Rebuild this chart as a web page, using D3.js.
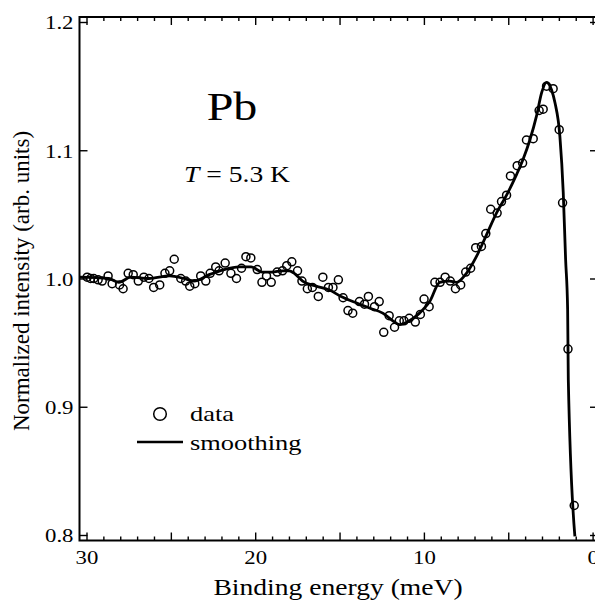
<!DOCTYPE html>
<html>
<head>
<meta charset="utf-8">
<script src="https://cdn.jsdelivr.net/npm/d3@7"></script>
<style>
  body { margin: 0; background: #fff; }
  text { font-family: "Liberation Serif", "Times New Roman", serif; fill: #000; }
</style>
</head>
<body>
<div id="chart"></div>
<script>
// binding energy (meV) and normalized intensity of the measured points
const dataE = [29.96, 29.76, 29.57, 29.31, 29.07, 28.72, 28.48, 28.04, 27.83, 27.53,
    27.23, 26.93, 26.60, 26.30, 26.02, 25.66, 25.35, 25.07, 24.80, 24.41,
    24.12, 23.88, 23.58, 23.23, 22.93, 22.67, 22.34, 22.14, 21.78, 21.44,
    21.11, 20.81, 20.55, 20.26, 19.88, 19.60, 19.33, 19.05, 18.70, 18.38,
    18.13, 17.83, 17.49, 17.23, 16.91, 16.61, 16.26, 15.99, 15.66, 15.39,
    15.07, 14.79, 14.50, 14.22, 13.82, 13.52, 13.29, 12.93, 12.65, 12.38,
    12.06, 11.74, 11.46, 11.18, 10.87, 10.51, 10.21, 9.99, 9.69, 9.35,
    9.04, 8.74, 8.44, 8.13, 7.82, 7.52, 7.23, 6.93, 6.59, 6.33,
    6.04, 5.66, 5.40, 5.10, 4.87, 4.47, 4.15, 3.92, 3.52, 3.17,
    2.93, 2.73, 2.34, 1.98, 1.78, 1.46, 1.09];
const dataI = [1.001, 1.000, 1.000, 0.999, 0.998, 1.002, 0.996, 0.995, 0.992, 1.004,
    1.003, 0.998, 1.001, 1.000, 0.993, 0.995, 1.004, 1.006, 1.015, 1.000,
    0.998, 0.994, 0.996, 1.002, 0.998, 1.004, 1.009, 1.006, 1.012, 1.004,
    1.000, 1.008, 1.017, 1.016, 1.007, 0.997, 1.002, 0.997, 1.005, 1.006,
    1.010, 1.013, 1.006, 0.998, 0.992, 0.993, 0.986, 1.001, 0.993, 0.993,
    0.999, 0.985, 0.975, 0.973, 0.982, 0.980, 0.986, 0.978, 0.982, 0.958,
    0.971, 0.962, 0.967, 0.967, 0.969, 0.966, 0.972, 0.984, 0.978, 0.997,
    0.997, 1.001, 0.998, 0.992, 0.995, 1.005, 1.008, 1.024, 1.025, 1.035,
    1.054, 1.051, 1.060, 1.065, 1.080, 1.088, 1.090, 1.108, 1.109, 1.131,
    1.132, 1.150, 1.148, 1.116, 1.059, 0.945, 0.823];

// smoothing curve
const smoothE = [30.4, 28.68, 28.08, 27.37, 26.30, 25.07, 24.22, 23.62, 22.73, 21.84,
    20.95, 20.24, 19.58, 18.99, 18.40, 17.98, 17.68, 17.19, 16.39, 15.60,
    14.91, 14.02, 13.23, 12.44, 11.84, 11.44, 10.85, 10.26, 9.66, 9.06,
    8.47, 8.07, 7.48, 6.89, 6.29, 5.70, 5.10, 4.51, 4.12, 3.72,
    3.32, 3.02, 2.73, 2.43, 2.23, 1.94, 1.74, 1.60, 1.48, 1.44, 1.05];
const smoothI = [1.001, 1.000, 0.997, 1.001, 1.000, 1.002, 1.000, 0.998, 1.003, 1.007,
    1.009, 1.009, 1.005, 1.005, 1.006, 1.006, 1.004, 0.998, 0.994, 0.991,
    0.986, 0.981, 0.977, 0.973, 0.967, 0.964, 0.967, 0.973, 0.982, 0.997,
    0.998, 0.997, 1.004, 1.017, 1.034, 1.051, 1.065, 1.081, 1.093, 1.108,
    1.127, 1.145, 1.153, 1.147, 1.137, 1.111, 1.067, 1.015, 0.976, 0.921, 0.799];

const xTicks = [30, 25, 20, 15, 10, 5, 0];
const xMinor = d3.range(1, 30).filter(d => d % 5 !== 0);
const yTicks = [0.8, 0.9, 1.0, 1.1, 1.2];

const W = 595, H = 603;
const frame = { left: 79.5, right: 598, top: 17, bottom: 540.5 };

const x = d3.scaleLinear().domain([30, 0]).range([86.5, 592.6]);
const y = d3.scaleLinear().domain([0.8, 1.2]).range([535, 22]);

const svg = d3.select("#chart").append("svg")
    .attr("width", W)
    .attr("height", H);

const stretch = 1.2;

// ticks
const bottomMaj = svg.append("g")
    .attr("transform", `translate(0,${frame.bottom})`)
    .call(d3.axisBottom(x).tickValues(xTicks).tickSize(-8).tickPadding(10)
        .tickFormat(d => d % 10 === 0 ? d : ""));
svg.append("g")
    .attr("transform", `translate(0,${frame.bottom})`)
    .call(d3.axisBottom(x).tickValues(xMinor).tickSize(-4).tickFormat(""));
svg.append("g")
    .attr("transform", `translate(0,${frame.top})`)
    .call(d3.axisTop(x).tickValues(xTicks).tickSize(-8).tickFormat(""));
svg.append("g")
    .attr("transform", `translate(0,${frame.top})`)
    .call(d3.axisTop(x).tickValues(xMinor).tickSize(-4).tickFormat(""));
const leftAx = svg.append("g")
    .attr("transform", `translate(${frame.left},0)`)
    .call(d3.axisLeft(y).tickValues(yTicks).tickSize(-8).tickPadding(6)
        .tickFormat(d3.format(".1f")));
svg.append("g")
    .attr("transform", `translate(${frame.right},0)`)
    .call(d3.axisRight(y).tickValues(yTicks).tickSize(-8).tickFormat(""));

svg.selectAll(".domain").remove();
svg.selectAll(".tick line").attr("stroke", "#000").attr("stroke-width", 1.4);

bottomMaj.selectAll("text")
    .style("font-size", "19px")
    .attr("transform", `scale(${stretch},1)`);
leftAx.selectAll("text")
    .style("font-size", "19px")
    .attr("x", -6 / stretch)
    .attr("dy", "0.36em")
    .attr("transform", `scale(${stretch},1)`);

// frame
svg.append("rect")
    .attr("x", frame.left)
    .attr("y", frame.top)
    .attr("width", frame.right - frame.left)
    .attr("height", frame.bottom - frame.top)
    .attr("fill", "none")
    .attr("stroke", "#000")
    .attr("stroke-width", 2);

// smoothing line
const line = d3.line()
    .x(i => x(smoothE[i]))
    .y(i => y(smoothI[i]))
    .curve(d3.curveMonotoneX);

svg.append("path")
    .attr("d", line(d3.range(smoothE.length)))
    .attr("fill", "none")
    .attr("stroke", "#000")
    .attr("stroke-width", 2.8)
    .attr("stroke-linejoin", "round");

// data points
svg.selectAll(".pt")
    .data(d3.range(dataE.length))
    .enter()
    .append("circle")
    .attr("class", "pt")
    .attr("cx", i => x(dataE[i]))
    .attr("cy", i => y(dataI[i]))
    .attr("r", 4)
    .attr("fill", "none")
    .attr("stroke", "#000")
    .attr("stroke-width", 1.5);

// texts
function label(txt, px, py, size, anchor) {
    return svg.append("text")
        .attr("transform", `translate(${px},${py}) scale(${stretch},1)`)
        .attr("text-anchor", anchor || "start")
        .style("font-size", size + "px")
        .text(txt);
}

label("Pb", 232, 120, 40, "middle");

const tLab = svg.append("text")
    .attr("transform", `translate(237,182) scale(${stretch},1)`)
    .attr("text-anchor", "middle")
    .style("font-size", "23px");
tLab.append("tspan").style("font-style", "italic").text("T");
tLab.append("tspan").text(" = 5.3 K");

label("Binding energy (meV)", 338, 595, 23, "middle");

svg.append("text")
    .attr("transform", "translate(29,281) rotate(-90)")
    .attr("text-anchor", "middle")
    .style("font-size", "23px")
    .text("Normalized intensity (arb. units)");

// legend
svg.append("circle")
    .attr("cx", 160)
    .attr("cy", 414)
    .attr("r", 6.3)
    .attr("fill", "none")
    .attr("stroke", "#000")
    .attr("stroke-width", 1.5);
label("data", 190, 421, 22);

svg.append("line")
    .attr("x1", 137).attr("x2", 183)
    .attr("y1", 442).attr("y2", 442)
    .attr("stroke", "#000")
    .attr("stroke-width", 2.5);
label("smoothing", 190, 450, 22);
</script>
</body>
</html>
